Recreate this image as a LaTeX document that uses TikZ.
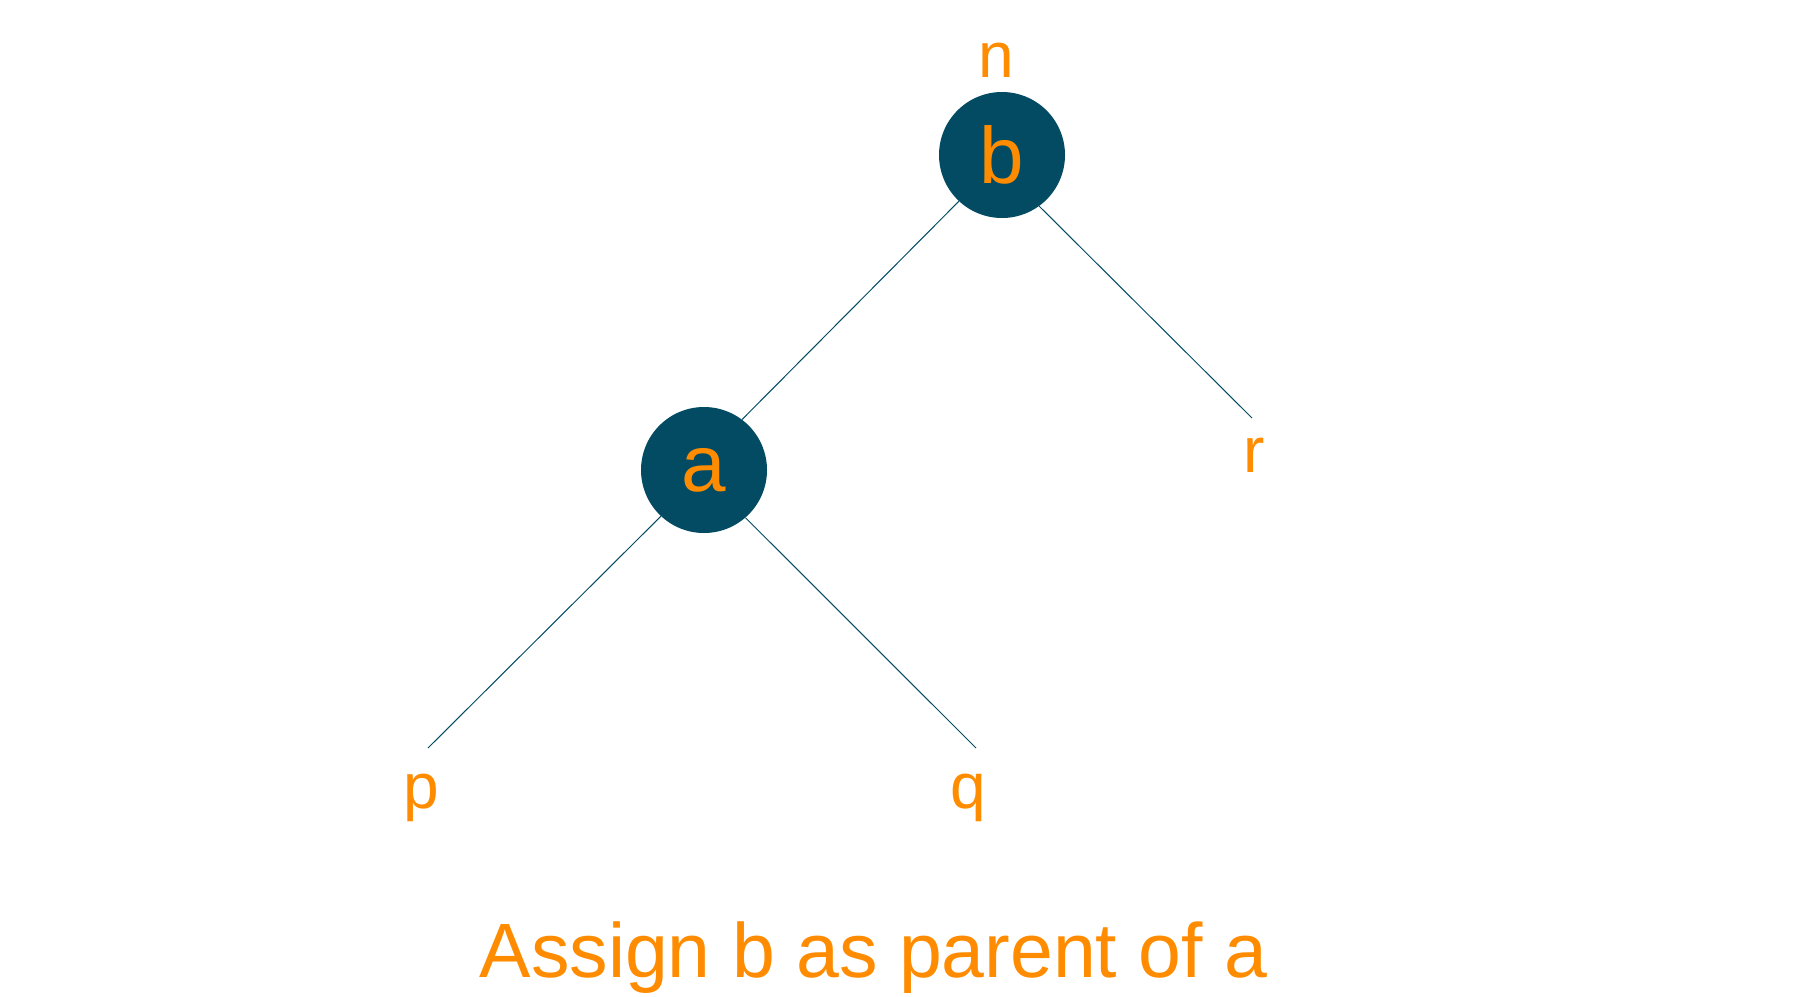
\documentclass[tikz,border=0pt]{standalone}
\usepackage{fontspec}
\setmainfont{Liberation Sans}
\definecolor{nodeteal}{HTML}{024B63}
\definecolor{labelorange}{HTML}{FF8C00}
\begin{document}
\begin{tikzpicture}[x=1pt,y=-1pt,
  treenode/.style={circle,fill=nodeteal,minimum size=126pt,inner sep=0pt,
    text=labelorange,font=\fontsize{80}{80}\selectfont},
  outerlabel/.style={anchor=base,inner sep=0pt,text=labelorange,
    font=\fontsize{64}{64}\selectfont},
  edge/.style={draw=nodeteal,line width=1pt}]
\useasboundingbox (0,0) rectangle (1799,996);
% nodes
\node[treenode] (b) at (1002,155) {b};
\node[treenode] (a) at (704,470) {a};
\node[outerlabel] (n) at (996,77) {n};
\node[outerlabel] (r) at (1254,472) {r};
\node[outerlabel] (p) at (421,808) {p};
\node[outerlabel] (q) at (968,808) {q};
\node[anchor=base,inner sep=0pt,text=labelorange,font=\fontsize{77}{77}\selectfont] (caption) at (873.5,977) {Assign b as parent of a};
% connector free ends
\coordinate (rend) at (1252,418);
\coordinate (pend) at (428,748);
\coordinate (qend) at (976,748);
% edges
\draw[edge] (b.-133) -- (a.53);
\draw[edge] (b.-54) -- (rend);
\draw[edge] (a.-133) -- (pend);
\draw[edge] (a.-49) -- (qend);
\end{tikzpicture}
\end{document}
